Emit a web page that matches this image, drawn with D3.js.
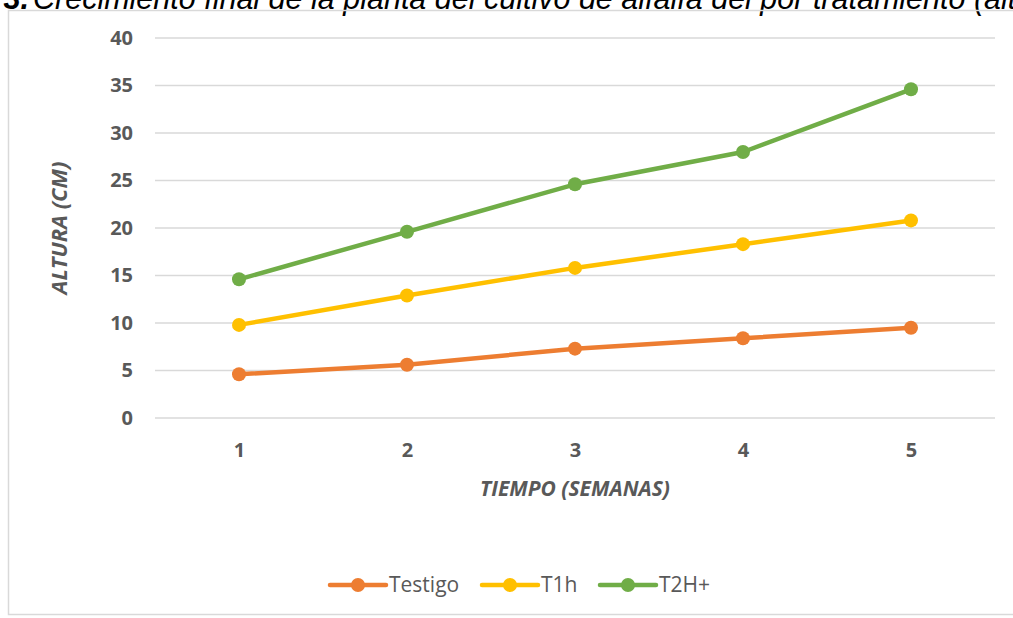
<!DOCTYPE html>
<html>
<head>
<meta charset="utf-8">
<script src="https://cdn.jsdelivr.net/npm/d3@7"></script>
<style>
    body { margin: 0; background: #fff; }
    svg { display: block; }
</style>
</head>
<body>
<svg id="chart" width="1013" height="618"></svg>
<script>
'use strict';

// data
const weeks = ['1', '2', '3', '4', '5'];
const testigo = [4.6, 5.6, 7.3, 8.4, 9.5];
const t1h = [9.8, 12.9, 15.8, 18.3, 20.8];
const t2h = [14.6, 19.6, 24.6, 28.0, 34.6];
const yTicks = [0, 5, 10, 15, 20, 25, 30, 35, 40];
const seriesNames = ['Testigo', 'T1h', 'T2H+'];
const seriesColors = ['#ED7D31', '#FFC000', '#70AD47'];

const series = [testigo, t1h, t2h].map(function(vals, i) {
    return {name: seriesNames[i], color: seriesColors[i], values: vals};
});

const svg = d3.select('#chart');
const font = '"Open Sans", Lato, sans-serif';
const grey = '#595959';

// caption cut off at the top of the picture
const cap = svg.append('text')
    .attr('y', 9)
    .style('font-family', '"Liberation Sans", Arial, sans-serif')
    .style('font-size', '30.5px')
    .style('font-style', 'italic')
    .attr('fill', '#000');
cap.append('tspan')
    .attr('x', 29)
    .attr('text-anchor', 'end')
    .style('font-weight', 'bold')
    .text('Gráfica 3.');
cap.append('tspan')
    .attr('x', 33)
    .attr('text-anchor', 'start')
    .text('Crecimiento final de la planta del cultivo de alfalfa del por tratamiento (altura)');

// chart frame
svg.append('rect')
    .attr('x', 8.5)
    .attr('y', 10.5)
    .attr('width', 1030)
    .attr('height', 604)
    .attr('fill', 'none')
    .attr('stroke', '#d9d9d9')
    .attr('stroke-width', 1.5);

const x = d3.scalePoint()
    .domain(weeks)
    .range([155, 995])
    .padding(0.5);

const y = d3.scaleLinear()
    .domain([0, 40])
    .range([418, 38]);

// gridlines
svg.append('g')
    .selectAll('line')
    .data(yTicks)
    .enter().append('line')
    .attr('x1', 155)
    .attr('x2', 995)
    .attr('y1', function(d) { return y(d); })
    .attr('y2', function(d) { return y(d); })
    .attr('stroke', '#d9d9d9')
    .attr('stroke-width', 1.5);

// y axis labels
const yAxis = svg.append('g')
    .attr('transform', 'translate(133,0)')
    .call(d3.axisLeft(y).tickValues(yTicks).tickSize(0).tickPadding(0));
yAxis.select('.domain').remove();
yAxis.selectAll('text')
    .style('font-family', font)
    .style('font-size', '20px')
    .style('font-weight', 'bold')
    .attr('fill', grey);

// x axis labels
const xAxis = svg.append('g')
    .attr('transform', 'translate(0,443)')
    .call(d3.axisBottom(x).tickSize(0).tickPadding(0));
xAxis.select('.domain').remove();
xAxis.selectAll('text')
    .style('font-family', font)
    .style('font-size', '20px')
    .style('font-weight', 'bold')
    .attr('fill', grey);

// axis titles
svg.append('text')
    .attr('transform', 'translate(67,228) rotate(-90)')
    .attr('text-anchor', 'middle')
    .style('font-family', font)
    .style('font-size', '22px')
    .style('font-weight', 'bold')
    .style('font-style', 'italic')
    .attr('fill', grey)
    .text('ALTURA (CM)');

svg.append('text')
    .attr('x', 575)
    .attr('y', 496)
    .attr('text-anchor', 'middle')
    .style('font-family', font)
    .style('font-size', '21px')
    .style('font-weight', 'bold')
    .style('font-style', 'italic')
    .attr('fill', grey)
    .text('TIEMPO (SEMANAS)');

// lines and markers
const line = d3.line()
    .x(function(d, i) { return x(weeks[i]); })
    .y(function(d) { return y(d); });

const g = svg.append('g')
    .selectAll('.series')
    .data(series)
    .enter().append('g')
    .attr('class', 'series');

g.append('path')
    .attr('d', function(d) { return line(d.values); })
    .attr('fill', 'none')
    .attr('stroke', function(d) { return d.color; })
    .attr('stroke-width', 4.5)
    .attr('stroke-linejoin', 'round')
    .attr('stroke-linecap', 'round');

g.selectAll('circle')
    .data(function(d) {
        return d.values.map(function(v, i) {
            return {v: v, i: i, color: d.color};
        });
    })
    .enter().append('circle')
    .attr('cx', function(d) { return x(weeks[d.i]); })
    .attr('cy', function(d) { return y(d.v); })
    .attr('r', 7)
    .attr('fill', function(d) { return d.color; });

// legend
const legendX = [330, 482, 600];
const leg = svg.append('g')
    .selectAll('.legend-item')
    .data(series)
    .enter().append('g')
    .attr('class', 'legend-item')
    .attr('transform', function(d, i) { return 'translate(' + legendX[i] + ',585)'; });

leg.append('line')
    .attr('x1', 0)
    .attr('x2', 56)
    .attr('stroke', function(d) { return d.color; })
    .attr('stroke-width', 4.5)
    .attr('stroke-linecap', 'round');

leg.append('circle')
    .attr('cx', 28)
    .attr('r', 7)
    .attr('fill', function(d) { return d.color; });

leg.append('text')
    .attr('x', 59)
    .attr('dy', '0.35em')
    .style('font-family', font)
    .style('font-size', '21px')
    .attr('fill', grey)
    .text(function(d) { return d.name; });
</script>
</body>
</html>
